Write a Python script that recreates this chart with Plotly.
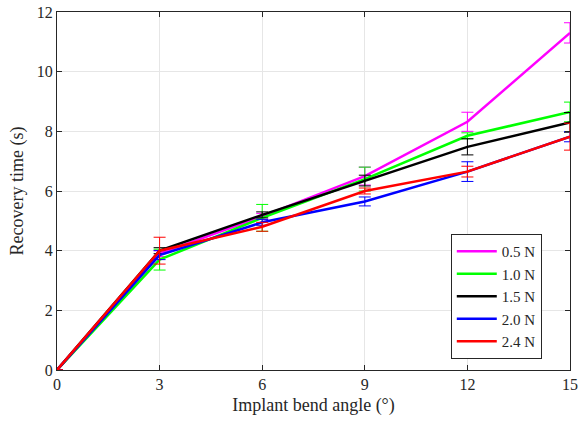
import plotly.graph_objects as go

angles = [0, 3, 6, 9, 12, 15]
series_names = ["0.5 N", "1.0 N", "1.5 N", "2.0 N", "2.4 N"]
colors = ["#FF00FF", "#00FF00", "#000000", "#0000FF", "#FF0000"]

t_05 = [0, 3.90, 5.15, 6.50, 8.32, 11.30]
e_05 = [0, 0.10, 0.10, 0.30, 0.32, 0.34]
t_10 = [0, 3.70, 5.10, 6.40, 7.85, 8.65]
e_10 = [0, 0.35, 0.45, 0.40, 0.10, 0.33]
t_15 = [0, 4.00, 5.20, 6.35, 7.48, 8.30]
e_15 = [0, 0.10, 0.10, 0.18, 0.27, 0.33]
t_20 = [0, 3.85, 4.95, 5.65, 6.65, 7.82]
e_20 = [0, 0.15, 0.10, 0.15, 0.33, 0.17]
t_24 = [0, 4.00, 4.80, 6.00, 6.65, 7.82]
e_24 = [0, 0.45, 0.15, 0.10, 0.18, 0.45]

values = [t_05, t_10, t_15, t_20, t_24]
errors = [e_05, e_10, e_15, e_20, e_24]

fig = go.Figure()
for name, c, y, e in zip(series_names, colors, values, errors):
    fig.add_trace(go.Scatter(
        x=angles, y=y, name=name, mode="lines",
        line=dict(color=c, width=2.5),
        error_y=dict(type="data", array=e, visible=True, color=c, thickness=1, width=6),
        cliponaxis=False,
    ))

font = "Liberation Serif"
axis_common = dict(
    showline=True, linecolor="#262626", linewidth=1, mirror="ticks",
    ticks="inside", ticklen=5, tickcolor="#262626",
    showgrid=True, gridcolor="#E6E6E6", gridwidth=1, zeroline=False,
    automargin=False, ticklabeloverflow="allow",
    tickfont=dict(family=font, size=16, color="#262626"),
)
fig.update_xaxes(range=[0, 15], tickvals=[0, 3, 6, 9, 12, 15],
                 title=dict(text="Implant bend angle (°)", font=dict(family=font, size=18, color="#262626"), standoff=6),
                 **axis_common)
fig.update_yaxes(range=[0, 12], tickvals=[0, 2, 4, 6, 8, 10, 12],
                 title=dict(text="Recovery time (s)", font=dict(family=font, size=18, color="#262626"), standoff=8),
                 **axis_common)

fig.update_layout(
    width=579, height=425,
    margin=dict(l=57, r=9, t=12, b=55, autoexpand=False),
    paper_bgcolor="white", plot_bgcolor="white",
    font=dict(family=font),
    showlegend=True,
    legend=dict(x=0.945, y=0.205, xanchor="right", yanchor="middle",
                bordercolor="#262626", borderwidth=1, bgcolor="white",
                font=dict(family=font, size=15, color="#262626"),
                tracegroupgap=0, itemwidth=40),
)
fig.write_html("out.html", config={"displayModeBar": False},
               post_script="document.body.style.margin='0';")
